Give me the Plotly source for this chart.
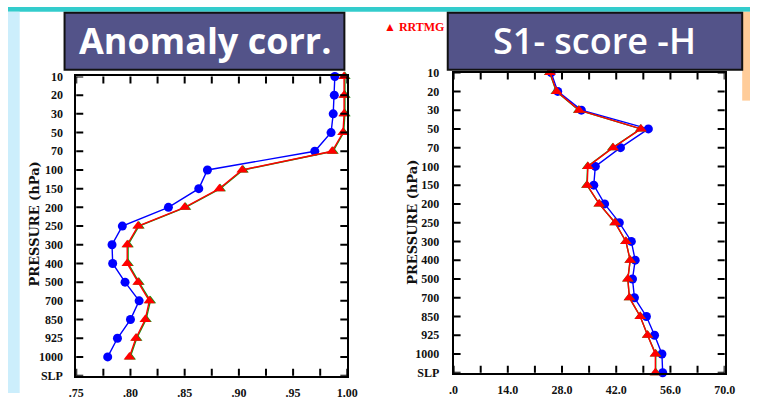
import plotly.graph_objects as go

# ---------------- data ----------------
levels = ["10", "20", "30", "50", "70", "100", "150", "200", "250", "300",
          "400", "500", "700", "850", "925", "1000", "SLP"]

# Anomaly correlation (left panel), levels 10 .. 1000
ac_blue = [0.9885, 0.988, 0.987, 0.985, 0.970, 0.871, 0.863, 0.835, 0.7925,
           0.783, 0.7836, 0.795, 0.808, 0.800, 0.788, 0.779]
ac_green = [0.9978, 0.9978, 0.9978, 0.9966, 0.9868, 0.9038, 0.8828, 0.8508,
            0.8078, 0.7978, 0.7978, 0.8078, 0.8184, 0.8144, 0.8058, 0.7998]
ac_red = [0.997, 0.997, 0.997, 0.996, 0.986, 0.903, 0.882, 0.850, 0.807,
          0.797, 0.797, 0.807, 0.8174, 0.8136, 0.805, 0.799]

# S1 score (right panel), levels 10 .. SLP
s1_blue = [25.2, 26.9, 33.0, 50.3, 43.1, 36.6, 36.2, 39.0, 42.8, 45.9, 46.9,
           46.2, 46.7, 49.8, 51.9, 53.8, 54.0]
s1_green = [24.8, 26.5, 32.3, 48.3, 41.1, 34.6, 34.4, 37.6, 41.7, 44.5, 45.6,
            45.0, 45.4, 48.2, 50.1, 52.2, 52.2]
s1_red = [24.9, 26.6, 32.4, 48.4, 41.2, 34.7, 34.5, 37.6, 41.7, 44.5, 45.6,
          45.0, 45.4, 48.2, 50.1, 52.1, 52.1]

ac_tickvals = [0.75, 0.775, 0.80, 0.825, 0.85, 0.875, 0.90, 0.925, 0.95, 0.975, 1.00]
ac_ticktext = [".75", "", ".80", "", ".85", "", ".90", "", ".95", "", "1.00"]
s1_tickvals = [0, 7, 14, 21, 28, 35, 42, 49, 56, 63, 70]
s1_ticktext = [".0", "", "14.0", "", "28.0", "", "42.0", "", "56.0", "", "70.0"]

# ---------------- layout helpers ----------------
W, H = 761, 400
TICK = 7


def px(x):
    return x / W


def py(y):
    return 1 - y / H


BLUE = "#0000FF"
RED = "#FF0000"
GREEN = "#119911"
tick_font = dict(family="Liberation Serif", size=12, color="#111111", weight="bold")

fig = go.Figure()

idx_ac = list(range(len(ac_blue)))
idx_s1 = list(range(len(s1_blue)))
level_idx = list(range(len(levels)))


def add_series(x, y, color, symbol, size, xa, ya, width=1.4):
    fig.add_trace(go.Scatter(
        x=x, y=y, mode="lines+markers", xaxis=xa, yaxis=ya,
        line=dict(color=color, width=width),
        marker=dict(color=color, symbol=symbol, size=size, line=dict(width=0)),
        cliponaxis=False, hoverinfo="skip"))


add_series(ac_blue, idx_ac, BLUE, "circle", 9, "x", "y")
add_series(ac_green, idx_ac, GREEN, "triangle-up", 10, "x", "y")
add_series(ac_red, idx_ac, RED, "triangle-up", 10, "x", "y")

add_series(s1_blue, idx_s1, BLUE, "circle", 9, "x2", "y2")
add_series(s1_green, idx_s1, GREEN, "triangle-up", 10, "x2", "y2")
add_series(s1_red, idx_s1, RED, "triangle-up", 10, "x2", "y2")

axis_common = dict(showline=True, linecolor="black", linewidth=1.8, mirror=True,
                   ticks="", showgrid=False, zeroline=False, tickfont=tick_font)

fig.update_layout(
    width=W, height=H, margin=dict(l=0, r=0, t=0, b=0),
    paper_bgcolor="white", plot_bgcolor="white", showlegend=False,
    xaxis=dict(domain=[px(70), px(348)], range=[0.75, 1.0], anchor="y", tickmode="array",
               tickvals=ac_tickvals, ticktext=ac_ticktext, ticklabelstandoff=5, **axis_common),
    yaxis=dict(domain=[py(382), py(72)], range=[16, 0], anchor="x", tickmode="array",
               tickvals=level_idx, ticktext=levels, ticklabelstandoff=9, **axis_common),
    xaxis2=dict(domain=[px(457), px(735)], range=[0, 70], anchor="y2", tickmode="array",
                tickvals=s1_tickvals, ticktext=s1_ticktext, ticklabelstandoff=5, **axis_common),
    yaxis2=dict(domain=[py(379), py(68)], range=[16, 0], anchor="x2", tickmode="array",
                tickvals=level_idx, ticktext=levels, ticklabelstandoff=10, **axis_common),
)

shapes = [
    # slide decorations
    dict(type="rect", xref="paper", yref="paper", x0=px(0), x1=px(761), y0=py(0), y1=py(5),
         fillcolor="#33CCCC", line=dict(width=0), layer="below"),
    dict(type="rect", xref="paper", yref="paper", x0=px(0), x1=px(12), y0=py(5), y1=py(400),
         fillcolor="#CCEEFC", line=dict(width=0), layer="below"),
    dict(type="rect", xref="paper", yref="paper", x0=px(753), x1=px(761), y0=py(5), y1=py(97),
         fillcolor="#FFCC99", line=dict(width=0), layer="below"),
    # title boxes
    dict(type="rect", xref="paper", yref="paper", x0=px(58), x1=px(345), y0=py(6), y1=py(65),
         fillcolor="#535389", line=dict(color="#111111", width=2)),
    dict(type="rect", xref="paper", yref="paper", x0=px(451), x1=px(753), y0=py(6), y1=py(65),
         fillcolor="#535389", line=dict(color="#111111", width=2)),
]

# inward tick marks on all four sides, placed through the axes' own scales
tick_line = dict(color="black", width=2)
for xa, ya, xvals in (("x", "y", ac_tickvals), ("x2", "y2", s1_tickvals)):
    for v in xvals:
        for anchor, sign in ((0, 1), (1, -1)):
            shapes.append(dict(type="line", xref=xa, yref=ya + " domain", x0=v, x1=v,
                               ysizemode="pixel", yanchor=anchor, y0=0, y1=sign * TICK,
                               line=tick_line))
    for v in level_idx:
        for anchor, sign in ((0, 1), (1, -1)):
            shapes.append(dict(type="line", xref=xa + " domain", yref=ya, y0=v, y1=v,
                               xsizemode="pixel", xanchor=anchor, x0=0, x1=sign * TICK,
                               line=tick_line))
fig.update_layout(shapes=shapes)

annotations = [
    dict(text="Anomaly corr.", x=px(202), y=py(35), xanchor="center", yanchor="middle",
         font=dict(family="Open Sans", size=36, color="white", weight="bold")),
    dict(text="S1- score -H", x=px(602), y=py(35), xanchor="center", yanchor="middle",
         font=dict(family="Open Sans", size=36, color="white", weight=600)),
    dict(text="▲ RRTMG", x=px(384), y=py(21), xanchor="left", yanchor="middle",
         font=dict(family="Liberation Serif", size=12, color=RED, weight="bold")),
    dict(text="PRESSURE (hPa)", x=px(27), y=py(225), textangle=-90, xanchor="center", yanchor="middle",
         font=dict(family="DejaVu Serif", size=13, color="#111111", weight="bold")),
    dict(text="PRESSURE (hPa)", x=px(415), y=py(223), textangle=-90, xanchor="center", yanchor="middle",
         font=dict(family="DejaVu Serif", size=13, color="#111111", weight="bold")),
]
for a in annotations:
    a.update(xref="paper", yref="paper", showarrow=False)
fig.update_layout(annotations=annotations)

fig.write_html("out.html")
